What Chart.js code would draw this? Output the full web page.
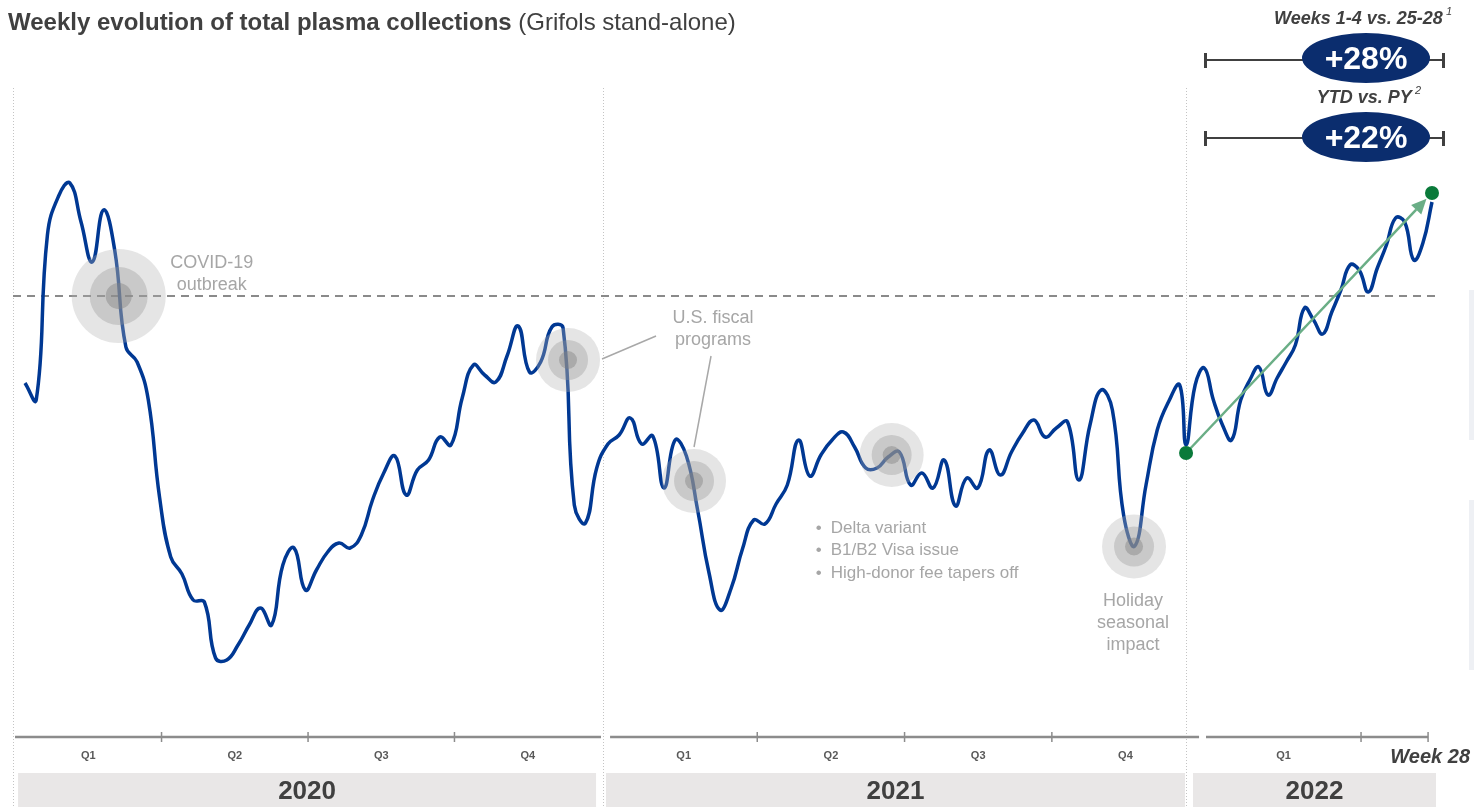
<!DOCTYPE html>
<html>
<head>
<meta charset="utf-8">
<script src="https://cdn.jsdelivr.net/npm/chart.js@4/dist/chart.umd.min.js"></script>
<style>
  html,body{margin:0;padding:0;background:#fff;}
  #wrap{position:relative;width:1474px;height:807px;overflow:hidden;font-family:'Liberation Sans',Arial,sans-serif;color:#404040;}
  #c{position:absolute;left:0;top:0;}
  .title{position:absolute;left:8px;top:7px;font-size:24px;line-height:30px;white-space:nowrap;}
  .title b{font-weight:700;}
  .kpi-head{position:absolute;font-size:18px;font-weight:700;font-style:italic;white-space:nowrap;color:#404040;}
  .kpi-head sup{font-size:11px;font-weight:400;vertical-align:9px;margin-left:3px;}
  .kpi-bar{position:absolute;left:1205px;width:239px;height:0;border-top:2.5px solid #404040;}
  .kpi-cap{position:absolute;width:2.5px;height:15px;background:#404040;}
  .kpi-pill{position:absolute;left:1302px;width:128px;height:50px;border-radius:50%;background:#0b2d6e;color:#fff;
    font-size:32px;font-weight:700;line-height:50px;text-align:center;}
  .edge{position:absolute;left:1469px;width:5px;background:#eef0f4;}
</style>
</head>
<body>
<div id="wrap">
  <canvas id="c" width="1474" height="807"></canvas>
  <div class="title"><b>Weekly evolution of total plasma collections</b> (Grifols stand-alone)</div>

  <div class="kpi-head" style="right:22px;top:5px">Weeks 1-4 vs. 25-28<sup>1</sup></div>
  <div class="kpi-bar" style="top:59px"></div>
  <div class="kpi-cap" style="left:1204px;top:53px"></div>
  <div class="kpi-cap" style="left:1442px;top:53px"></div>
  <div class="kpi-pill" style="top:33px">+28%</div>

  <div class="kpi-head" style="right:53px;top:84px">YTD vs. PY<sup>2</sup></div>
  <div class="kpi-bar" style="top:137px"></div>
  <div class="kpi-cap" style="left:1204px;top:131px"></div>
  <div class="kpi-cap" style="left:1442px;top:131px"></div>
  <div class="kpi-pill" style="top:112px">+22%</div>

  <div class="edge" style="top:290px;height:150px"></div>
  <div class="edge" style="top:500px;height:170px"></div>
</div>

<script>
// weekly collections index (pre-COVID level = 100)
const WEEKS_2020 = [82.6, 79.2, 112.2, 120.0, 122.6, 114.8, 106.8, 117.2, 109.2, 89.8,
  86.8, 79.2, 59.8, 47.8, 44.4, 39.2, 38.8, 27.6, 27.2, 30.2,
  34.2, 37.6, 34.2, 46.2, 49.6, 41.2, 45.2, 48.8, 50.6, 49.6,
  52.2, 59.2, 64.6, 68.0, 60.2, 65.2, 67.2, 71.8, 70.2, 79.6,
  86.2, 84.2, 82.8, 88.0, 94.0, 84.8, 86.8, 93.8, 93.6, 58.2,
  54.6, 65.6];
const WEEKS_2021 = [70.4, 72.2, 75.6, 70.4, 72.0, 61.6, 71.2, 68.0, 57.2, 44.8,
  37.2, 41.6, 49.4, 55.2, 54.4, 58.4, 62.2, 71.2, 64.0, 68.2,
  71.2, 72.8, 69.8, 65.6, 65.6, 67.8, 68.8, 62.2, 64.6, 61.6,
  67.2, 58.0, 63.6, 61.6, 69.2, 64.2, 68.8, 72.6, 75.2, 71.8,
  73.6, 74.8, 63.2, 74.2, 81.2, 77.2, 56.2, 50.0, 62.2, 73.2,
  78.8, 82.2];
const WEEKS_2022 = [70.2, 82.2, 85.6, 79.2, 74.2, 71.2, 79.2, 83.2, 85.8, 80.2,
  83.6, 86.8, 90.2, 97.6, 95.2, 92.4, 96.8, 101.2, 106.2, 105.2,
  100.8, 105.6, 110.2, 115.6, 114.8, 107.2, 110.6, 118.8];
const SERIES = [WEEKS_2020, WEEKS_2021, WEEKS_2022];
const YEARS = ['2020', '2021', '2022'];
const QUARTERS = ['Q1', 'Q2', 'Q3', 'Q4'];
const REF_LEVEL = 100;
const TREND_FROM = 68.6;   // 2022 week 1
const TREND_TO = 120.6;    // 2022 week 28

// x axis is in "weeks"; 2022 is drawn compressed
const SEG_FIRST = [0, 52, 103.57];
const SEG_STEP = [1, 1, 0.8126];
function weekPos(s, w){ return SEG_FIRST[s] + (w - 1) * SEG_STEP[s]; }

const AXIS = [
  {line:[-0.89, 51.38], band:[-0.62, 50.94], cuts:[12.18, 25.25, 38.31]},
  {line:[52.19, 104.73], band:[51.83, 103.48], cuts:[65.32, 78.46, 91.6]},
  {line:[105.35, 125.16], band:[104.19, 125.87], cuts:[119.18]}
];
const DIVIDERS = [-1.07, 51.56, 103.57];

// annotation bubbles: anchor in data units, text offsets in px
const NOTES = [
  {x:8.36, y:100, big:true, text:['COVID-19', 'outbreak'], tx:93, ty:-33, align:'center'},
  {x:48.44, y:87.2, text:[], link:[[34, -1], [88, -24]]},
  {x:59.68, y:63.0, text:['U.S. fiscal', 'programs'], tx:19, ty:-163, align:'center', link:[[0, -34], [17, -125]]},
  {x:77.31, y:68.2, text:[]},
  {x:98.93, y:49.9, text:['Holiday', 'seasonal', 'impact'], tx:-1, ty:55, align:'center'}
];
const BULLETS = ['Delta variant', 'B1/B2 Visa issue', 'High-donor fee tapers off'];

const points = [];
SERIES.forEach((arr, s) => arr.forEach((v, i) => points.push({x: weekPos(s, i + 1), y: v})));

const FONT = "'Liberation Sans', Arial, sans-serif";

const decor = {
  id: 'decor',
  beforeDatasetsDraw(chart){
    const {ctx, chartArea, scales:{x, y}} = chart;
    const H = chart.height;
    ctx.save();
    // year bands
    AXIS.forEach((a, i) => {
      const l = x.getPixelForValue(a.band[0]), r = x.getPixelForValue(a.band[1]);
      ctx.fillStyle = '#e9e7e7';
      ctx.fillRect(l, chartArea.bottom + 36, r - l, H - chartArea.bottom - 36);
      ctx.fillStyle = '#404040';
      ctx.font = 'bold 26px ' + FONT;
      ctx.textAlign = 'center';
      ctx.textBaseline = 'middle';
      ctx.fillText(YEARS[i], (l + r) / 2, chartArea.bottom + 55);
    });
    // dotted dividers
    ctx.strokeStyle = '#c4c4c4';
    ctx.lineWidth = 1;
    ctx.setLineDash([1, 2]);
    DIVIDERS.forEach(d => {
      const px = Math.round(x.getPixelForValue(d)) + 0.5;
      ctx.beginPath();
      ctx.moveTo(px, chartArea.top - 8);
      ctx.lineTo(px, H);
      ctx.stroke();
    });
    // reference dashed line
    ctx.strokeStyle = '#8a8a8a';
    ctx.lineWidth = 2;
    ctx.setLineDash([8, 6]);
    const ry = y.getPixelForValue(REF_LEVEL);
    ctx.beginPath();
    ctx.moveTo(x.getPixelForValue(-1.07), ry);
    ctx.lineTo(x.getPixelForValue(125.8), ry);
    ctx.stroke();
    ctx.setLineDash([]);
    // quarter axes
    const ay = chartArea.bottom;
    AXIS.forEach(a => {
      ctx.strokeStyle = '#8c8c8c';
      ctx.lineWidth = 2.5;
      ctx.beginPath();
      ctx.moveTo(x.getPixelForValue(a.line[0]), ay);
      ctx.lineTo(x.getPixelForValue(a.line[1]), ay);
      ctx.stroke();
      ctx.lineWidth = 1.5;
      const ends = a.cuts.concat(a.line[1] === 125.16 ? [a.line[1]] : []);
      ends.forEach(c => {
        const px = x.getPixelForValue(c);
        ctx.beginPath();
        ctx.moveTo(px, ay - 5);
        ctx.lineTo(px, ay + 5);
        ctx.stroke();
      });
      const bounds = [a.line[0]].concat(a.cuts, [a.line[1]]);
      ctx.fillStyle = '#595959';
      ctx.font = 'bold 11px ' + FONT;
      ctx.textAlign = 'center';
      ctx.textBaseline = 'middle';
      const n = a.cuts.length === 1 ? 1 : 4;
      for (let q = 0; q < n; q++){
        ctx.fillText(QUARTERS[q], x.getPixelForValue((bounds[q] + bounds[q + 1]) / 2), ay + 19);
      }
    });
    ctx.fillStyle = '#404040';
    ctx.font = 'italic bold 20px ' + FONT;
    ctx.textAlign = 'right';
    ctx.fillText('Week 28', chart.width - 4, ay + 20);
    ctx.restore();
  },
  afterDatasetsDraw(chart){
    const {ctx, scales:{x, y}} = chart;
    ctx.save();
    NOTES.forEach(n => {
      const cx = x.getPixelForValue(n.x), cy = y.getPixelForValue(n.y);
      const radii = n.big ? [47, 29, 13] : [32, 20, 9];
      const fills = ['rgba(175,175,175,0.33)', 'rgba(150,150,150,0.35)', 'rgba(130,130,130,0.45)'];
      radii.forEach((r, k) => {
        ctx.fillStyle = fills[k];
        ctx.beginPath();
        ctx.arc(cx, cy, r, 0, Math.PI * 2);
        ctx.fill();
      });
      if (n.link){
        ctx.strokeStyle = '#a8a8a8';
        ctx.lineWidth = 1.5;
        ctx.beginPath();
        ctx.moveTo(cx + n.link[0][0], cy + n.link[0][1]);
        ctx.lineTo(cx + n.link[1][0], cy + n.link[1][1]);
        ctx.stroke();
      }
      ctx.fillStyle = '#a6a6a6';
      ctx.font = '18px ' + FONT;
      ctx.textAlign = n.align || 'center';
      ctx.textBaseline = 'middle';
      n.text.forEach((t, k) => ctx.fillText(t, cx + n.tx, cy + n.ty + k * 22));
    });
    // bullet list next to the Delta bubble
    const bx = x.getPixelForValue(77.31) - 76, by = y.getPixelForValue(68.2) + 73;
    ctx.fillStyle = '#a6a6a6';
    ctx.font = '17px ' + FONT;
    ctx.textAlign = 'left';
    ctx.textBaseline = 'middle';
    BULLETS.forEach((t, k) => {
      ctx.fillText('\u2022', bx, by + k * 22.5);
      ctx.fillText(t, bx + 15, by + k * 22.5);
    });
    // trend arrow 2022
    const x0 = x.getPixelForValue(weekPos(2, 1)), y0 = y.getPixelForValue(TREND_FROM);
    const x1 = x.getPixelForValue(weekPos(2, 28)), y1 = y.getPixelForValue(TREND_TO);
    const ang = Math.atan2(y1 - y0, x1 - x0);
    const tipX = x1 - Math.cos(ang) * 8, tipY = y1 - Math.sin(ang) * 8;
    const baseX = tipX - Math.cos(ang) * 15, baseY = tipY - Math.sin(ang) * 15;
    ctx.strokeStyle = '#6aae86';
    ctx.fillStyle = '#6aae86';
    ctx.lineWidth = 2.5;
    ctx.beginPath();
    ctx.moveTo(x0, y0);
    ctx.lineTo(baseX, baseY);
    ctx.stroke();
    ctx.beginPath();
    ctx.moveTo(tipX, tipY);
    ctx.lineTo(baseX + Math.sin(ang) * 7, baseY - Math.cos(ang) * 7);
    ctx.lineTo(baseX - Math.sin(ang) * 7, baseY + Math.cos(ang) * 7);
    ctx.closePath();
    ctx.fill();
    ctx.fillStyle = '#0a7a3a';
    [[x0, y0], [x1, y1]].forEach(p => {
      ctx.beginPath();
      ctx.arc(p[0], p[1], 7, 0, Math.PI * 2);
      ctx.fill();
    });
    ctx.restore();
  }
};

new Chart(document.getElementById('c'), {
  type: 'line',
  data: {
    datasets: [{
      data: points,
      borderColor: '#003893',
      borderWidth: 3.5,
      pointRadius: 0,
      tension: 0.45,
      fill: false,
      clip: false
    }]
  },
  options: {
    responsive: false,
    animation: false,
    events: [],
    layout: {padding: {left: 25, right: 42, top: 96, bottom: 70}},
    plugins: {legend: {display: false}, tooltip: {enabled: false}},
    scales: {
      x: {type: 'linear', min: 0, max: 125.51, display: false},
      y: {min: 11.8, max: 140, display: false}
    }
  },
  plugins: [decor]
});
</script>
</body>
</html>
